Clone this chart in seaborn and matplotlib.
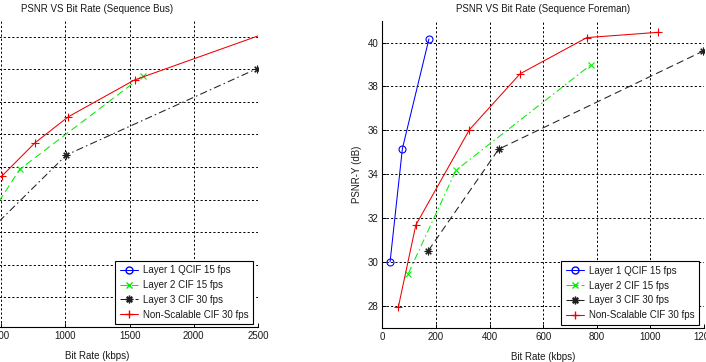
import matplotlib
matplotlib.use("Agg")
import matplotlib.pyplot as plt
from matplotlib.lines import Line2D
import seaborn as sns
import pandas as pd

# ---------------- data ----------------
# Left panel: Sequence Bus (x in kbps, y in dB)
bus_l2_x = [451, 645, 1602]
bus_l2_y = [27.75, 28.93, 31.80]
bus_l3_x = [451, 1008, 2490]
bus_l3_y = [27.20, 29.37, 32.02]
bus_ns_x = [505, 762, 1021, 1540, 2500]
bus_ns_y = [28.72, 29.74, 30.54, 31.68, 33.03]

# Right panel: Sequence Foreman
fm_l1_x = [29, 75, 174]
fm_l1_y = [30.00, 35.17, 40.17]
fm_l2_x = [97, 275, 778]
fm_l2_y = [29.47, 34.18, 38.99]
fm_l3_x = [172, 434, 1198]
fm_l3_y = [30.52, 35.14, 39.62]
fm_ns_x = [60, 125, 325, 514, 763, 1028]
fm_ns_y = [27.95, 31.68, 36.03, 38.58, 40.23, 40.47]

legend_labels = ["Layer 1 QCIF 15 fps", "Layer 2 CIF 15 fps",
                 "Layer 3 CIF 30 fps", "Non-Scalable CIF 30 fps"]
titles = ["PSNR VS Bit Rate (Sequence Bus)", "PSNR VS Bit Rate (Sequence Foreman)"]
xlabel = "Bit Rate (kbps)"
ylabel = "PSNR-Y (dB)"
bus_xticks = [0, 500, 1000, 1500, 2000, 2500]
bus_yticks = [25, 26, 27, 28, 29, 30, 31, 32, 33]
fm_xticks = [0, 200, 400, 600, 800, 1000, 1200]
fm_yticks = [28, 30, 32, 34, 36, 38, 40]

# ---------------- style ----------------
sns.set_theme(style="white")
plt.rcParams['font.family'] = ['Liberation Sans', 'DejaVu Sans']
FS = 7.0
plt.rcParams['font.size'] = FS
TXT = "#1a1a1a"

fig = plt.figure(figsize=(7.06, 3.62), dpi=100)
axL = fig.add_axes([-63 / 706, 35 / 362, 321 / 706, 307 / 362])
axR = fig.add_axes([382.3 / 706, 34.3 / 362, 321.7 / 706, 307 / 362])

DASH = (0, (7, 4))
DASHDOT = (0, (7, 3, 1.5, 3))
LW = 0.75
STAR = (8, 2, 0)

colors = {"l1": "#0000ff", "l2": "#00ee00", "l3": "#202020", "ns": "#ee0000"}


def draw(ax, x, y, color, marker, ls, ms, **kw):
    df = pd.DataFrame({"x": x, "y": y})
    sns.lineplot(data=df, x="x", y="y", ax=ax, sort=False, estimator=None,
                 color=color, linestyle=ls, linewidth=LW, marker=marker,
                 markersize=ms, markeredgecolor=color, markeredgewidth=0.8,
                 **kw)


# Left panel
draw(axL, bus_l2_x, bus_l2_y, colors["l2"], "x", DASH, 4)
draw(axL, bus_l3_x, bus_l3_y, colors["l3"], STAR, DASHDOT, 5.5)
draw(axL, bus_ns_x, bus_ns_y, colors["ns"], "+", "-", 6,
     markevery=[0, 1, 2, 3])

# Right panel
draw(axR, fm_l1_x, fm_l1_y, colors["l1"], "o", "-", 5, markerfacecolor="none")
draw(axR, fm_l2_x, fm_l2_y, colors["l2"], "x", DASHDOT, 4)
draw(axR, fm_l3_x, fm_l3_y, colors["l3"], STAR, DASH, 5.5)
draw(axR, fm_ns_x, fm_ns_y, colors["ns"], "+", "-", 6)

setup = [
    (axL, bus_xticks, bus_yticks, (0, 2500), (24.08, 33.52), titles[0], DASH, DASHDOT),
    (axR, fm_xticks, fm_yticks, (0, 1200), (27.0, 41.0), titles[1], DASHDOT, DASH),
]
for ax, xt, yt, xl, yl, title, l2ls, l3ls in setup:
    ax.set_xlim(*xl)
    ax.set_ylim(*yl)
    ax.set_xticks(xt)
    ax.set_yticks(yt)
    ax.set_xticklabels([str(v) for v in xt])
    ax.set_yticklabels([str(v) for v in yt])
    ax.grid(True, color="black", linestyle=(0, (2.2, 2.2)), linewidth=0.7)
    ax.set_axisbelow(True)
    for s in ["top", "right"]:
        ax.spines[s].set_visible(False)
    for s in ["left", "bottom"]:
        ax.spines[s].set_color("black")
        ax.spines[s].set_linewidth(0.8)
    ax.tick_params(direction="in", length=3, width=0.7, colors="black",
                   labelsize=FS, pad=3, bottom=True, left=True)
    for lab in ax.get_xticklabels() + ax.get_yticklabels():
        lab.set_color(TXT)
    ax.set_xlabel(xlabel, fontsize=FS, labelpad=7, color=TXT)
    ax.set_ylabel(ylabel, fontsize=FS, labelpad=4, color=TXT)
    ax.set_title(title, fontsize=FS, pad=6, color=TXT)
    ax.set_facecolor("white")

    handles = [
        Line2D([], [], color=colors["l1"], lw=LW, ls="-", marker="o", ms=5,
               mfc="none", mec=colors["l1"]),
        Line2D([], [], color=colors["l2"], lw=LW, ls=l2ls, marker="x", ms=4,
               mec=colors["l2"]),
        Line2D([], [], color=colors["l3"], lw=LW, ls=l3ls, marker=STAR, ms=5.5,
               mec=colors["l3"]),
        Line2D([], [], color=colors["ns"], lw=LW, ls="-", marker="+", ms=6,
               mec=colors["ns"]),
    ]
    leg = ax.legend(handles, legend_labels, loc="lower right",
                    bbox_to_anchor=(1 - 5 / 321, 3 / 307), fontsize=FS,
                    frameon=True, fancybox=False, framealpha=1,
                    edgecolor="black", borderaxespad=0, handlelength=1.9,
                    handletextpad=0.5, labelspacing=0.5, borderpad=0.45)
    leg.get_frame().set_linewidth(0.8)
    for t in leg.get_texts():
        t.set_color(TXT)

fig.savefig("out.png", dpi=100, facecolor="white")
